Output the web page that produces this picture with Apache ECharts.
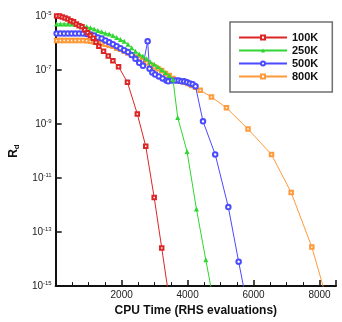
<!DOCTYPE html>
<html>
<head>
<meta charset="utf-8">
<script src="https://cdn.jsdelivr.net/npm/echarts@6/dist/echarts.min.js"></script>
<style>
  html, body { margin: 0; padding: 0; background: #fff; }
  #chart { width: 342px; height: 322px; }
</style>
</head>
<body>
<div id="chart"></div>
<script>
// CPU time (RHS evaluations) and residual R_d for each run
var t100K = [28, 114, 199, 285, 370, 455, 541, 626, 711, 797, 882, 967, 1053, 1138, 1223, 1309,
  1451, 1593, 1735, 1906, 2176, 2475, 2731, 2987, 3215, 3442];
var r100K = [1.0e-5, 1.0e-5, 9.2e-6, 8.5e-6, 7.8e-6, 6.6e-6, 6.1e-6, 5.1e-6, 4.4e-6, 4.0e-6, 3.1e-6,
  2.4e-6, 1.9e-6, 1.5e-6, 1.06e-6, 7.6e-7, 5.0e-7, 3.3e-7, 2.2e-7, 1.33e-7, 3.5e-8, 2.35e-9,
  1.5e-10, 1.9e-12, 2.6e-14, 3.4e-16];

var t250K = [28, 142, 256, 370, 484, 597, 711, 825, 939, 1053, 1166, 1280, 1394, 1508, 1622, 1735,
  1849, 1963, 2077, 2191, 2304, 2418, 2532, 2646, 2760, 2873, 2987, 3101, 3215, 3329, 3442, 3556,
  3699, 3983, 4268, 4552, 4837];
var r250K = [5.1e-6, 5.1e-6, 5.1e-6, 5.1e-6, 5.1e-6, 4.9e-6, 4.7e-6, 4.4e-6, 4.0e-6, 3.7e-6, 3.3e-6,
  2.9e-6, 2.6e-6, 2.3e-6, 2.15e-6, 1.9e-6, 1.6e-6, 1.36e-6, 1.15e-6, 9.0e-7, 6.7e-7, 5.0e-7, 3.9e-7,
  3.3e-7, 2.6e-7, 2.0e-7, 1.63e-7, 1.33e-7, 1.03e-7, 8.1e-8, 6.3e-8, 4.5e-8, 1.76e-9, 9.6e-11,
  7.1e-13, 9.4e-15, 1.3e-16];

var t500K = [28, 142, 256, 370, 484, 597, 711, 825, 939, 1053, 1166, 1280, 1394, 1508, 1622, 1735,
  1849, 1963, 2077, 2191, 2304, 2418, 2532, 2646, 2788, 2845, 2930, 3016, 3130, 3243, 3357, 3414,
  3528, 3642, 3727, 3812, 3898, 3983, 4068, 4154, 4239, 4467, 4837, 5235, 5548, 5861];
var r500K = [2.24e-6, 2.24e-6, 2.24e-6, 2.24e-6, 2.24e-6, 2.24e-6, 2.24e-6, 2.24e-6, 2.15e-6, 2.06e-6,
  1.9e-6, 1.6e-6, 1.48e-6, 1.25e-6, 1.06e-6, 9.0e-7, 7.6e-7, 6.4e-7, 5.4e-7, 4.6e-7, 3.6e-7, 2.6e-7,
  1.85e-7, 1.44e-7, 1.15e-6, 1.12e-7, 8.1e-8, 6.8e-8, 5.8e-8, 4.9e-8, 4.1e-8, 3.8e-8, 4.1e-8, 4.1e-8,
  4.1e-8, 3.8e-8, 3.8e-8, 3.5e-8, 3.2e-8, 3.0e-8, 2.5e-8, 1.26e-9, 7.5e-11, 8.4e-13, 8.0e-15, 9.0e-17];

var t800K = [28, 142, 256, 370, 484, 597, 711, 825, 939, 1053, 1166, 1280, 1394, 1508, 1622, 1735,
  1849, 1963, 2077, 2191, 2304, 2418, 2532, 2646, 2760, 2873, 2987, 3101, 3215, 3329, 3442, 3556,
  3670, 3784, 3898, 4011, 4125, 4239, 4381, 4723, 5178, 5832, 6544, 7141, 7767, 8421];
var r800K = [1.25e-6, 1.25e-6, 1.25e-6, 1.25e-6, 1.25e-6, 1.25e-6, 1.25e-6, 1.25e-6, 1.2e-6, 1.15e-6,
  1.1e-6, 1.06e-6, 9.75e-7, 9.0e-7, 8.3e-7, 7.6e-7, 6.4e-7, 5.9e-7, 5.0e-7, 4.25e-7, 3.6e-7, 3.05e-7,
  2.6e-7, 2.2e-7, 1.85e-7, 1.57e-7, 1.33e-7, 1.12e-7, 9.5e-8, 7.4e-8, 6.3e-8, 4.9e-8, 4.1e-8, 3.8e-8,
  3.5e-8, 3.2e-8, 2.7e-8, 2.3e-8, 1.8e-8, 1.0e-8, 4.0e-9, 6.5e-10, 7.5e-11, 2.9e-12, 2.8e-14, 4.6e-17];

var seriesNames = ['100K', '250K', '500K', '800K'];
var seriesColors = ['#dc2626', '#30d630', '#4a4aff', '#ff9a3a'];
var seriesSymbols = ['emptyRect', 'triangle', 'emptyCircle', 'emptyRect'];
var seriesSizes = [3.5, 5, 4.5, 3.5];

function zip(xs, ys) {
  var out = [];
  for (var i = 0; i < xs.length; i++) out.push([xs[i], ys[i]]);
  return out;
}

var allData = [zip(t100K, r100K), zip(t250K, r250K), zip(t500K, r500K), zip(t800K, r800K)];

var series = [];
seriesNames.forEach(function (name, i) {
  series.push({
    name: name,
    type: 'line',
    data: allData[i],
    symbol: seriesSymbols[i],
    symbolSize: seriesSizes[i],
    showAllSymbol: true,
    clip: true,
    color: seriesColors[i],
    lineStyle: { width: 1, color: seriesColors[i] },
    itemStyle: { color: seriesColors[i], borderWidth: 1 },
    z: 10 - i
  });
});

var font = 'Liberation Sans, Arial, sans-serif';
var chart = echarts.init(document.getElementById('chart'), null, { renderer: 'canvas' });
chart.setOption({
  animation: false,
  backgroundColor: '#fff',
  grid: { left: 37, right: 6, top: 16, bottom: 28 },
  legend: {
    orient: 'vertical',
    left: 230,
    top: 22,
    width: 100,
    data: seriesNames,
    itemWidth: 48,
    itemHeight: 5,
    itemGap: 0,
    padding: [9, 14, 9, 8],
    borderColor: '#707070',
    borderWidth: 1.5,
    textStyle: { fontFamily: font, fontSize: 11, fontWeight: 'bold', color: '#111', lineHeight: 13 }
  },
  xAxis: {
    type: 'value',
    min: 0,
    max: 8500,
    interval: 2000,
    name: 'CPU Time (RHS evaluations)',
    nameLocation: 'middle',
    nameGap: 17,
    nameTextStyle: { fontFamily: font, fontSize: 12, fontWeight: 'bold', color: '#111' },
    axisLine: { lineStyle: { color: '#111', width: 2 } },
    axisTick: { inside: true, length: 6, lineStyle: { color: '#111', width: 1.5 } },
    minorTick: { show: true, splitNumber: 4, length: 4, lineStyle: { color: '#111', width: 1 } },
    axisLabel: {
      margin: 4, fontFamily: font, fontSize: 10, color: '#222',
      formatter: function (v) { return v === 0 ? '' : String(v); }
    },
    splitLine: { show: false }
  },
  yAxis: {
    type: 'log',
    logBase: 10,
    min: 1e-15,
    max: 1e-5,
    interval: 2,
    name: '{a|R}{b|d}',
    nameLocation: 'middle',
    nameGap: 25,
    nameTextStyle: {
      rich: {
        a: { fontFamily: font, fontSize: 12, fontWeight: 'bold', color: '#111' },
        b: { fontFamily: font, fontSize: 8, fontWeight: 'bold', color: '#111', padding: [6, 0, 0, 0] }
      }
    },
    axisLine: { show: true, lineStyle: { color: '#111', width: 2 } },
    axisTick: { show: true, inside: true, length: 6, lineStyle: { color: '#111', width: 1.5 } },
    axisLabel: {
      margin: 4,
      formatter: function (v) {
        var e = Math.round(Math.log(v) / Math.LN10);
        return '{b|10}{s|' + e + '}';
      },
      rich: {
        b: { fontFamily: font, fontSize: 10, color: '#222' },
        s: { fontFamily: font, fontSize: 6, color: '#222', padding: [0, 0, 6, 0] }
      }
    },
    splitLine: { show: false }
  },
  series: series
});
</script>
</body>
</html>
